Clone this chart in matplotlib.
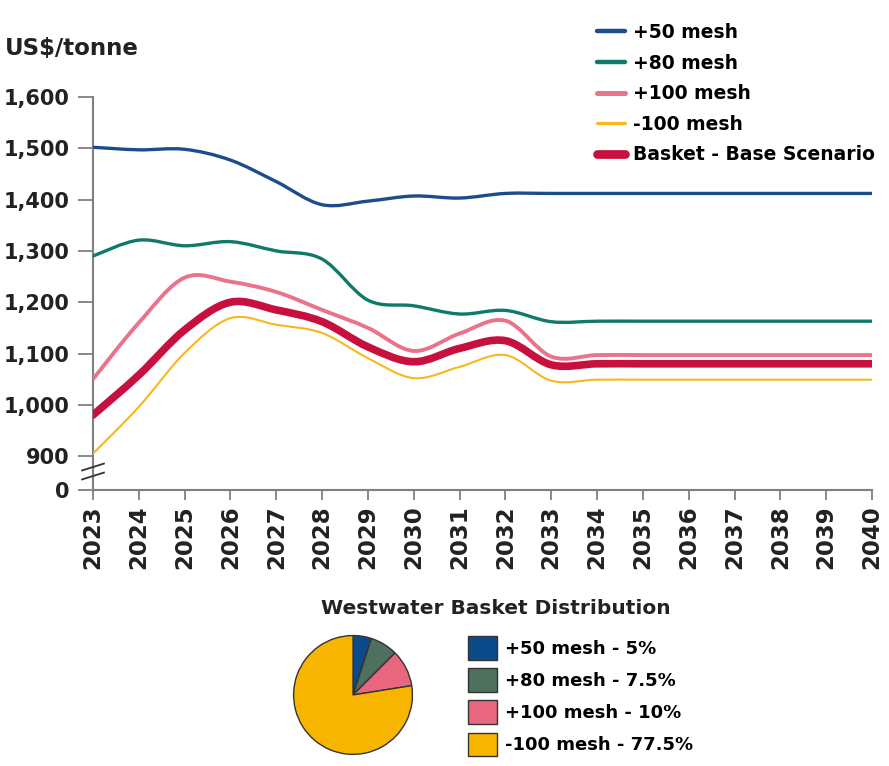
import numpy as np
import matplotlib.pyplot as plt
from matplotlib.path import Path
from matplotlib.patches import PathPatch, Patch
from matplotlib.lines import Line2D

years = list(range(2023, 2041))
mesh50 = [1502, 1497, 1498, 1477, 1435, 1390, 1397, 1407, 1403, 1412,
          1412, 1412, 1412, 1412, 1412, 1412, 1412, 1412]
mesh80 = [1290, 1321, 1310, 1318, 1300, 1284, 1204, 1193, 1177, 1184,
          1162, 1163, 1163, 1163, 1163, 1163, 1163, 1163]
mesh100 = [1050, 1160, 1248, 1240, 1220, 1185, 1150, 1105, 1139, 1164,
           1094, 1097, 1097, 1097, 1097, 1097, 1097, 1097]
minus100 = [905, 996, 1101, 1169, 1156, 1140, 1091, 1052, 1074, 1097,
            1047, 1049, 1049, 1049, 1049, 1049, 1049, 1049]
basket = [980, 1058, 1146, 1200, 1185, 1162, 1113, 1084, 1110, 1125,
          1078, 1080, 1080, 1080, 1080, 1080, 1080, 1080]

yticks = [900, 1000, 1100, 1200, 1300, 1400, 1500, 1600]
y_zero = 834   # where the "0" sits below the axis break

pie_labels = ['+50 mesh - 5%', '+80 mesh - 7.5%', '+100 mesh - 10%', '-100 mesh - 77.5%']
pie_shares = [5, 7.5, 10, 77.5]
pie_colors = ['#0b4a8b', '#4f6f5f', '#e8667f', '#f8b500']

FONT = 'DejaVu Sans'
plt.rcParams['font.family'] = FONT


def smooth_path(x, y):
    # Catmull-Rom through the points, as Bezier segments (Excel-like smoothing)
    x = np.asarray(x, float)
    y = np.asarray(y, float)
    px = np.concatenate([[x[0]], x, [x[-1]]])
    py = np.concatenate([[y[0]], y, [y[-1]]])
    verts = [(x[0], y[0])]
    codes = [Path.MOVETO]
    for i in range(1, len(x)):
        c1 = (px[i] + (px[i + 1] - px[i - 1]) / 6, py[i] + (py[i + 1] - py[i - 1]) / 6)
        c2 = (px[i + 1] - (px[i + 2] - px[i]) / 6, py[i + 1] - (py[i + 2] - py[i]) / 6)
        verts += [c1, c2, (px[i + 1], py[i + 1])]
        codes += [Path.CURVE4] * 3
    return Path(verts, codes)


fig = plt.figure(figsize=(8.89, 7.66), dpi=100)
ax = fig.add_axes([0.1046, 0.3603, 0.8763, 0.5131])

series = [
    ('+50 mesh', mesh50, '#1b4c8c', 2.4),
    ('+80 mesh', mesh80, '#0f7a69', 2.4),
    ('+100 mesh', mesh100, '#ea7289', 2.8),
    ('-100 mesh', minus100, '#f6b81c', 1.5),
    ('Basket - Base Scenario', basket, '#c8103f', 5.5),
]
handles = []
for name, vals, col, lw in series:
    ax.add_patch(PathPatch(smooth_path(years, vals), fill=False, edgecolor=col,
                           lw=lw, capstyle='round', zorder=3))
    handles.append(Line2D([], [], color=col, lw=lw + 0.8, solid_capstyle='round', label=name))

ax.set_xlim(2023, 2040)
ax.set_ylim(y_zero, 1600)
ax.set_xticks(years)
ax.set_xticklabels([str(v) for v in years], rotation=90, fontsize=16.5, fontweight='bold',
                   color='#222222')
ax.set_yticks([y_zero] + yticks)
ax.set_yticklabels(['0'] + [f'{v:,}' for v in yticks], fontsize=15, fontweight='bold',
                   color='#222222')
for s in ['top', 'right']:
    ax.spines[s].set_visible(False)
for s in ['left', 'bottom']:
    ax.spines[s].set_color('#808080')
    ax.spines[s].set_linewidth(1.5)
ax.tick_params(axis='y', color='#808080', width=1.3, length=11, pad=6)
ax.tick_params(axis='x', color='#808080', width=1.3, length=7, pad=4)

# axis break marks
for yb in [0.0585, 0.0356]:
    ax.plot([-0.014, 0.014], [yb - 0.0087, yb + 0.0087], transform=ax.transAxes,
            color='#333333', lw=1.3, clip_on=False, zorder=5)

fig.text(0.006, 0.937, 'US$/tonne', fontsize=16.5, fontweight='bold', color='#222222',
         va='center', ha='left')

fig.legend(handles=handles, loc='upper left', bbox_to_anchor=(0.671, 0.970),
           frameon=False, handlelength=1.5, handletextpad=0.45,
           labelspacing=0.62, borderpad=0, borderaxespad=0,
           prop={'weight': 'bold', 'size': 13.5})

# pie of the basket distribution
pax = fig.add_axes([0.3296, 0.0144, 0.135, 0.1567])
wedges, _ = pax.pie(pie_shares, colors=pie_colors, startangle=90, counterclock=False,
                    wedgeprops={'edgecolor': '#333333', 'linewidth': 1.0})
pax.set_xlim(-1.01, 1.01)
pax.set_ylim(-1.01, 1.01)
pax.set_aspect('equal')

fig.text(0.558, 0.205, 'Westwater Basket Distribution', fontsize=14.5, fontweight='bold',
         color='#222222', ha='center', va='center')

fig.legend(handles=[Patch(facecolor=c, edgecolor='#333333', lw=1.0) for c in pie_colors],
           labels=pie_labels, loc='upper left', bbox_to_anchor=(0.526, 0.17),
           frameon=False, handlelength=1.6, handleheight=1.65, handletextpad=0.45,
           labelspacing=0.47, borderpad=0, borderaxespad=0,
           prop={'weight': 'bold', 'size': 13})

fig.savefig('out.png', dpi=100)
